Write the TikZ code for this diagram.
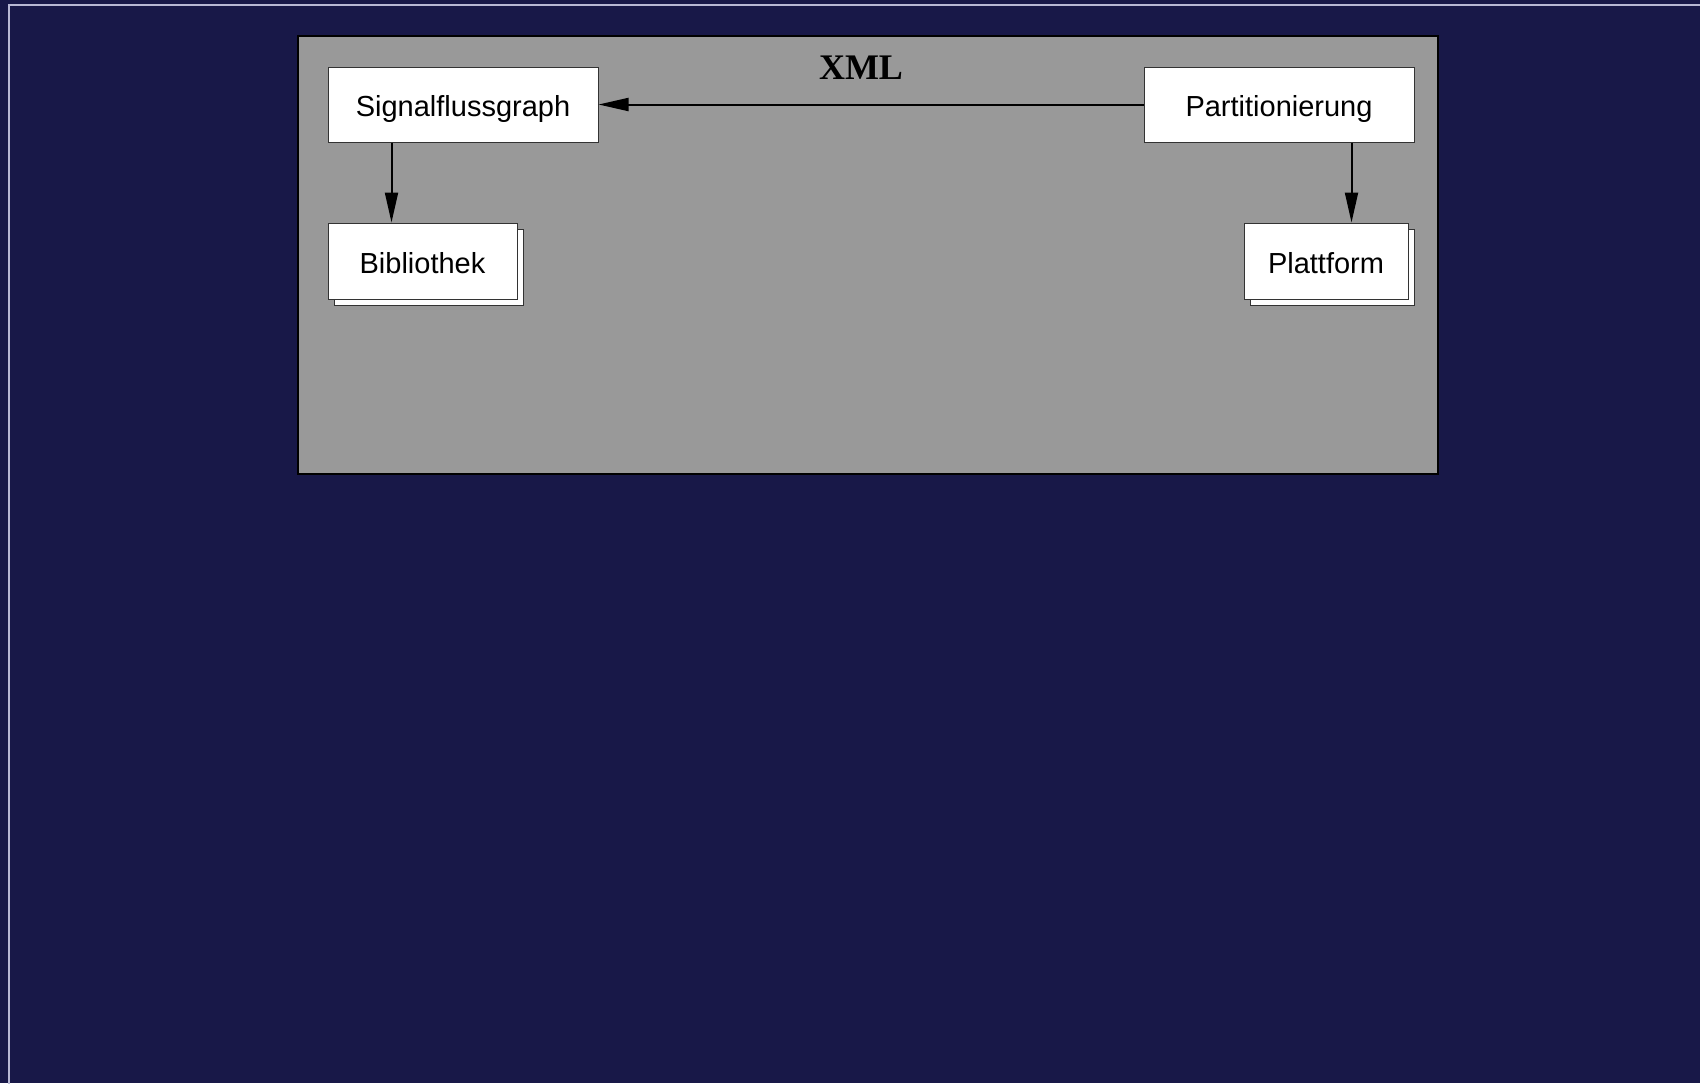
\documentclass[tikz,border=0pt]{standalone}
\usepackage{fontspec}
\setmainfont{Liberation Sans}
\newfontfamily\xmlfont{Liberation Serif}
\usetikzlibrary{arrows.meta,shadows}
\definecolor{navy}{RGB}{24,24,72}
\definecolor{framecol}{RGB}{184,184,212}
\definecolor{boxgrey}{RGB}{153,153,153}
\tikzset{
  block/.style={draw=black!80,line width=0.5pt,fill=white,inner sep=0pt,text height=15.2pt,text depth=3pt,font=\fontsize{14.5}{17}\selectfont},
  stackblock/.style={block,copy shadow={shadow xshift=3pt,shadow yshift=-3pt,fill=white,draw=black!80,line width=0.5pt}},
  arr/.style={-{Triangle[length=15pt,width=6.5pt]},line width=1pt}
}
\begin{document}
\begin{tikzpicture}[x=0.5pt,y=-0.5pt]
    \fill[navy] (0,0) rectangle (1700,1083);
    \useasboundingbox (0,0) rectangle (1700,1083);
    \draw[framecol,line width=1pt] (8.5,1100) -- (8.5,4.5) -- (1720,4.5);
    \draw[fill=boxgrey,line width=1pt] (298,36) rectangle (1438,474);
    \node[font=\xmlfont\bfseries\fontsize{18}{20}\selectfont] (xml) at (861,68) {XML};
    \node[block,minimum width=135pt,minimum height=37.5pt] (sfg) at (463,104.5) {Signalflussgraph};
    \node[block,minimum width=135pt,minimum height=37.5pt] (part) at (1279,104.5) {Partitionierung};
    \node[stackblock,minimum width=94.5pt,minimum height=38pt] (bib) at (422.5,261) {Bibliothek};
    \node[stackblock,minimum width=82pt,minimum height=38pt] (plat) at (1326,261) {Plattform};
    \draw[arr] (part.west) -- (sfg.east);
    \draw[arr] ([xshift=32pt]sfg.south west) -- ([xshift=32pt]sfg.south west |- bib.north);
    \draw[arr] ([xshift=-31.5pt]part.south east) -- ([xshift=-31.5pt]part.south east |- plat.north);
  \end{tikzpicture}
\end{document}
